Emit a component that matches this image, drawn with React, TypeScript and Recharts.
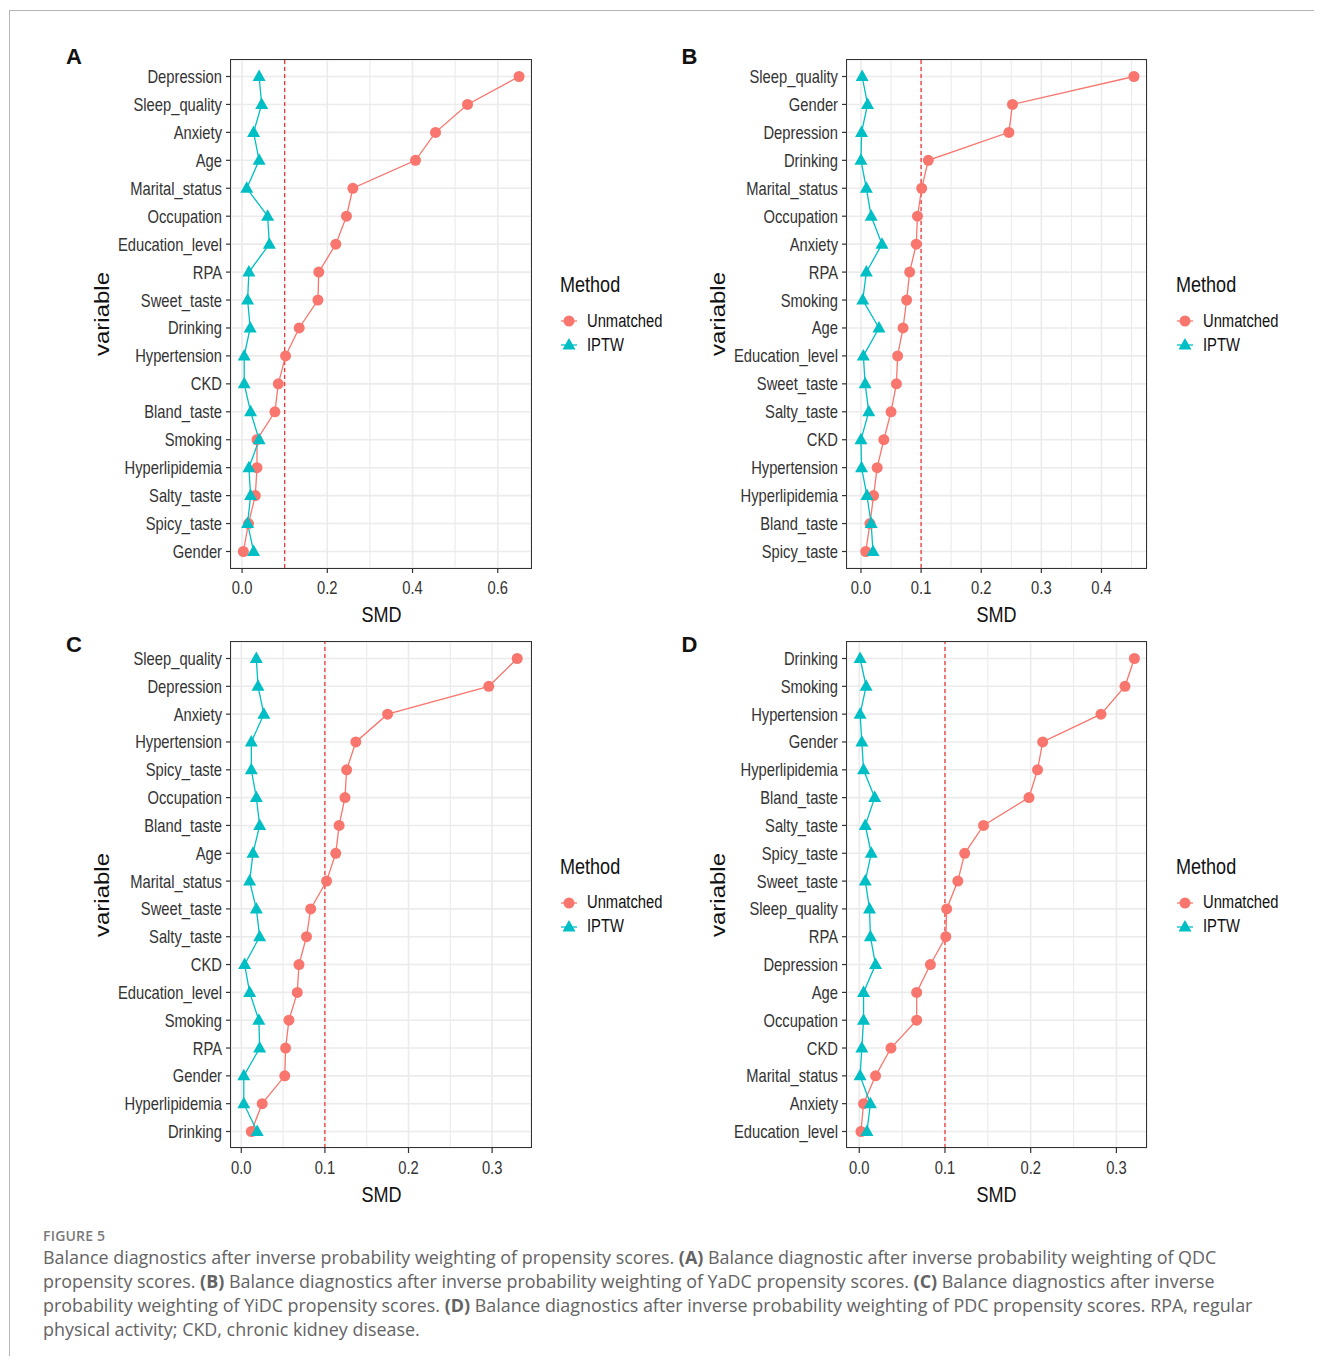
import React from "react";
import { CartesianGrid, Line, LineChart, ReferenceLine, XAxis, YAxis } from "recharts";

const RED = "#F8766D";
const CYAN = "#00BFC4";
const GRID = "#EBEBEB";
const SANS = "'Liberation Sans', Arial, sans-serif";
// the figure uses a condensed Helvetica; squeeze Liberation Sans horizontally
const SQUEEZE = 0.82;

// Panel A (QDC)
const varsA = ["Depression", "Sleep_quality", "Anxiety", "Age", "Marital_status", "Occupation", "Education_level", "RPA", "Sweet_taste", "Drinking", "Hypertension", "CKD", "Bland_taste", "Smoking", "Hyperlipidemia", "Salty_taste", "Spicy_taste", "Gender"];
const unmatchedA = [0.65, 0.529, 0.454, 0.407, 0.26, 0.245, 0.22, 0.18, 0.178, 0.134, 0.102, 0.085, 0.077, 0.035, 0.035, 0.031, 0.015, 0.003];
const iptwA = [0.04, 0.046, 0.027, 0.04, 0.011, 0.06, 0.064, 0.016, 0.013, 0.019, 0.005, 0.005, 0.02, 0.04, 0.016, 0.02, 0.013, 0.027];

// Panel B (YaDC)
const varsB = ["Sleep_quality", "Gender", "Depression", "Drinking", "Marital_status", "Occupation", "Anxiety", "RPA", "Smoking", "Age", "Education_level", "Sweet_taste", "Salty_taste", "CKD", "Hypertension", "Hyperlipidemia", "Bland_taste", "Spicy_taste"];
const unmatchedB = [0.454, 0.252, 0.246, 0.112, 0.101, 0.094, 0.092, 0.081, 0.076, 0.07, 0.061, 0.059, 0.05, 0.038, 0.027, 0.021, 0.015, 0.008];
const iptwB = [0.002, 0.011, 0.001, 0.0, 0.009, 0.017, 0.035, 0.009, 0.003, 0.03, 0.004, 0.007, 0.013, 0.0, 0.001, 0.01, 0.017, 0.02];

// Panel C (YiDC)
const varsC = ["Sleep_quality", "Depression", "Anxiety", "Hypertension", "Spicy_taste", "Occupation", "Bland_taste", "Age", "Marital_status", "Sweet_taste", "Salty_taste", "CKD", "Education_level", "Smoking", "RPA", "Gender", "Hyperlipidemia", "Drinking"];
const unmatchedC = [0.33, 0.296, 0.175, 0.137, 0.126, 0.124, 0.117, 0.113, 0.102, 0.083, 0.078, 0.069, 0.067, 0.057, 0.053, 0.052, 0.025, 0.012];
const iptwC = [0.018, 0.02, 0.027, 0.012, 0.012, 0.018, 0.022, 0.014, 0.01, 0.018, 0.022, 0.004, 0.01, 0.021, 0.022, 0.003, 0.003, 0.019];

// Panel D (PDC)
const varsD = ["Drinking", "Smoking", "Hypertension", "Gender", "Hyperlipidemia", "Bland_taste", "Salty_taste", "Spicy_taste", "Sweet_taste", "Sleep_quality", "RPA", "Depression", "Age", "Occupation", "CKD", "Marital_status", "Anxiety", "Education_level"];
const unmatchedD = [0.321, 0.31, 0.282, 0.214, 0.208, 0.198, 0.145, 0.123, 0.115, 0.102, 0.101, 0.083, 0.067, 0.067, 0.037, 0.019, 0.005, 0.002];
const iptwD = [0.001, 0.008, 0.001, 0.003, 0.005, 0.018, 0.007, 0.014, 0.007, 0.012, 0.013, 0.019, 0.005, 0.005, 0.003, 0.001, 0.013, 0.009];

const ticksA = [0, 0.2, 0.4, 0.6];
const minorA = [0.1, 0.3, 0.5];
const ticksB = [0, 0.1, 0.2, 0.3, 0.4];
const minorB = [0.05, 0.15, 0.25, 0.35, 0.45];
const ticksCD = [0, 0.1, 0.2, 0.3];
const minorCD = [0.05, 0.15, 0.25];

const THRESHOLD = 0.1;
const Y_AXIS_W = 131;

function circleDot(props: any) {
  const { cx, cy, index } = props;
  return <circle key={`c${index}`} cx={cx} cy={cy} r={5.5} fill={RED} />;
}

function triangleDot(props: any) {
  const { cx, cy, index } = props;
  return (
    <polygon
      key={`t${index}`}
      points={`${cx},${cy - 7} ${cx - 6.5},${cy + 4.5} ${cx + 6.5},${cy + 4.5}`}
      fill={CYAN}
    />
  );
}

function YTick(props: any) {
  const { x, y, payload } = props;
  return (
    <text
      transform={`translate(${x},${y}) scale(${SQUEEZE},1)`}
      textAnchor="end"
      dy="0.36em"
      fill="#333"
      fontSize={18}
      fontFamily={SANS}
    >
      {payload.value}
    </text>
  );
}

function XTick(props: any) {
  const { x, y, payload } = props;
  return (
    <text
      transform={`translate(${x},${y}) scale(${SQUEEZE},1)`}
      textAnchor="middle"
      dy="0.71em"
      fill="#333"
      fontSize={18}
      fontFamily={SANS}
    >
      {Number(payload.value).toFixed(1)}
    </text>
  );
}

const squeezed = (origin: string): React.CSSProperties => ({
  display: "inline-block",
  transform: `scaleX(${SQUEEZE})`,
  transformOrigin: origin,
  whiteSpace: "nowrap",
});

interface PanelProps {
  letter: string;
  letterY: number;
  vars: string[];
  unmatched: number[];
  iptw: number[];
  domain: [number, number];
  ticks: number[];
  minor: number[];
  px: number;
  py: number;
  pw: number;
  ph: number;
}

function Panel({ letter, letterY, vars, unmatched, iptw, domain, ticks, minor, px, py, pw, ph }: PanelProps) {
  const data = vars.map((v, i) => ({ variable: v, unmatched: unmatched[i], iptw: iptw[i] }));
  const abs = { position: "absolute" as const };

  return (
    <>
      <div style={{ ...abs, left: px - 165, top: letterY - 13, fontFamily: SANS, fontWeight: 700, fontSize: 22, lineHeight: "26px", color: "#111" }}>
        {letter}
      </div>

      <div style={{ ...abs, left: px - Y_AXIS_W, top: py - 10 }}>
        <LineChart
          width={Y_AXIS_W + pw + 2}
          height={ph + 42}
          data={data}
          layout="vertical"
          margin={{ top: 10, right: 2, bottom: 0, left: 0 }}
        >
          <CartesianGrid stroke={GRID} strokeWidth={1.6} />
          {minor.map((m) => (
            <ReferenceLine key={m} x={m} stroke={GRID} strokeWidth={1.1} />
          ))}
          <XAxis
            type="number"
            domain={domain}
            ticks={ticks}
            allowDataOverflow
            interval={0}
            height={32}
            axisLine={false}
            tickLine={{ stroke: "#333", strokeWidth: 1.2 }}
            tickSize={5}
            tickMargin={8}
            tick={<XTick />}
          />
          <YAxis
            type="category"
            dataKey="variable"
            scale="point"
            width={Y_AXIS_W}
            interval={0}
            padding={{ top: 16.5, bottom: 16.5 }}
            axisLine={false}
            tickLine={{ stroke: "#333", strokeWidth: 1.2 }}
            tickSize={5}
            tickMargin={4}
            tick={<YTick />}
          />
          <ReferenceLine x={THRESHOLD} stroke="#F21A1A" strokeDasharray="4 3" strokeWidth={1.1} />
          <Line
            dataKey="unmatched"
            type="linear"
            stroke={RED}
            strokeWidth={1.3}
            dot={circleDot}
            activeDot={false}
            isAnimationActive={false}
          />
          <Line
            dataKey="iptw"
            type="linear"
            stroke={CYAN}
            strokeWidth={1.3}
            dot={triangleDot}
            activeDot={false}
            isAnimationActive={false}
          />
        </LineChart>
      </div>

      {/* panel border */}
      <div style={{ ...abs, left: px - 0.7, top: py - 0.7, width: pw + 1.4, height: ph + 1.4, border: "1.4px solid #333", boxSizing: "border-box", pointerEvents: "none" }} />

      {/* axis titles */}
      <div style={{ ...abs, left: px, top: py + ph + 34, width: pw, textAlign: "center", fontFamily: SANS, fontSize: 22, lineHeight: "26px", color: "#111" }}>
        <span style={squeezed("center")}>SMD</span>
      </div>
      <div style={{ ...abs, left: px - 129, top: py + ph / 2, transform: "translate(-50%, -50%) rotate(-90deg) scale(1, 0.82)", fontFamily: SANS, fontSize: 24, lineHeight: "28px", color: "#111", whiteSpace: "nowrap" }}>
        variable
      </div>

      {/* legend */}
      <div style={{ ...abs, left: px + 329, top: py + 212, fontFamily: SANS, fontSize: 22, lineHeight: "26px", color: "#111" }}>
        <span style={squeezed("left")}>Method</span>
      </div>
      {[
        { name: "Unmatched", color: RED, dy: 261, shape: "circle" },
        { name: "IPTW", color: CYAN, dy: 285, shape: "triangle" },
      ].map((it) => (
        <div key={it.name} style={{ ...abs, left: px + 328, top: py + it.dy - 11, height: 22, display: "flex", alignItems: "center" }}>
          <svg width={20} height={22}>
            <line x1={2} x2={18} y1={11} y2={11} stroke={it.color} strokeWidth={1.3} />
            {it.shape === "circle" ? (
              <circle cx={10} cy={11} r={5.5} fill={it.color} />
            ) : (
              <polygon points="10,4 3.5,15.5 16.5,15.5" fill={it.color} />
            )}
          </svg>
          <span style={{ ...squeezed("left"), marginLeft: 8, fontFamily: SANS, fontSize: 18, color: "#111" }}>{it.name}</span>
        </div>
      ))}
    </>
  );
}

export default function App() {
  const capFont = "'Open Sans', 'Noto Sans', sans-serif";
  return (
    <div style={{ position: "relative", width: 1322, height: 1364, margin: -8, overflow: "hidden", background: "#fff" }}>
      <div style={{ position: "absolute", left: 9, top: 10, width: 1400, height: 1400, borderTop: "1.5px solid #b4b4b4", borderLeft: "1.5px solid #b4b4b4" }} />

      <Panel letter="A" letterY={57} vars={varsA} unmatched={unmatchedA} iptw={iptwA} domain={[-0.026, 0.678]} ticks={ticksA} minor={minorA} px={231} py={60} pw={300} ph={508} />
      <Panel letter="B" letterY={57} vars={varsB} unmatched={unmatchedB} iptw={iptwB} domain={[-0.0232, 0.4757]} ticks={ticksB} minor={minorB} px={846.5} py={60} pw={300} ph={508} />
      <Panel letter="C" letterY={645} vars={varsC} unmatched={unmatchedC} iptw={iptwC} domain={[-0.0123, 0.3465]} ticks={ticksCD} minor={minorCD} px={231} py={641.5} pw={300} ph={506} />
      <Panel letter="D" letterY={645} vars={varsD} unmatched={unmatchedD} iptw={iptwD} domain={[-0.0143, 0.3357]} ticks={ticksCD} minor={minorCD} px={846.5} py={641.5} pw={300} ph={506} />

      <div style={{ position: "absolute", left: 43, top: 1226, fontFamily: capFont, fontWeight: 600, fontSize: 14, color: "#7a7a7a", letterSpacing: 0.2 }}>
        FIGURE 5
      </div>
      <div style={{ position: "absolute", left: 43, top: 1245, fontFamily: capFont, fontSize: 17.9, lineHeight: "24px", color: "#636363", whiteSpace: "nowrap" }}>
        Balance diagnostics after inverse probability weighting of propensity scores. <b>(A)</b> Balance diagnostic after inverse probability weighting of QDC
        <br />
        propensity scores. <b>(B)</b> Balance diagnostics after inverse probability weighting of YaDC propensity scores. <b>(C)</b> Balance diagnostics after inverse
        <br />
        probability weighting of YiDC propensity scores. <b>(D)</b> Balance diagnostics after inverse probability weighting of PDC propensity scores. RPA, regular
        <br />
        physical activity; CKD, chronic kidney disease.
      </div>
    </div>
  );
}
